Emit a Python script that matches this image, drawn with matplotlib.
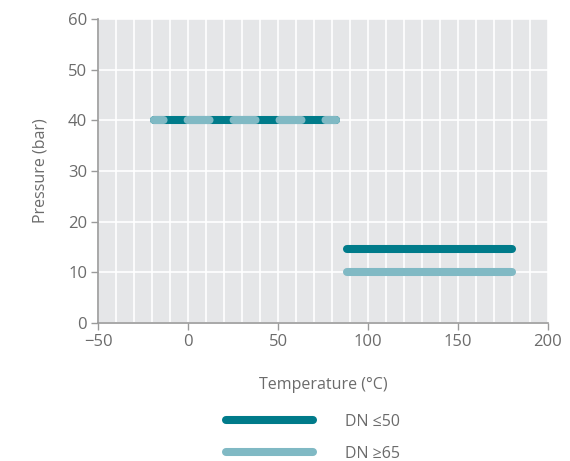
import matplotlib
matplotlib.use("Agg")
import matplotlib.pyplot as plt
from matplotlib.ticker import MultipleLocator

plt.rcParams["font.family"] = ["Open Sans", "DejaVu Sans"]
plt.rcParams["lines.scale_dashes"] = False

# pressure / temperature ranges
dn50_segments = [([-19, 82], [40, 40]), ([88, 180], [14.6, 14.6])]
dn65_segments = [([-19, 82], [40, 40]), ([88, 180], [10, 10])]
labels = ["DN \u226450", "DN \u226565"]

DARK = "#007b8a"
LIGHT = "#80b9c4"
TEXT = "#6b6b6b"
SPINE = "#9a9a9a"

fig = plt.figure(figsize=(5.7, 4.61), dpi=100)
ax = fig.add_axes([0.1725, 0.2993, 0.7889, 0.6595])
ax.set_facecolor("#e5e6e8")

lw = 5.8
h_dark = None
for xs, ys in dn50_segments:
    h_dark, = ax.plot(xs, ys, color=DARK, lw=lw, solid_capstyle="round", zorder=3)

h_light = None
for i, (xs, ys) in enumerate(dn65_segments):
    if ys[0] == dn50_segments[i][1][0]:
        # overlapping range: draw dashed on top so both are visible
        ax.plot(xs, ys, color=LIGHT, lw=lw, dash_capstyle="round",
                linestyle=(8.9, (15.8, 17.3)), zorder=4)
    else:
        h_light, = ax.plot(xs, ys, color=LIGHT, lw=lw, solid_capstyle="round", zorder=3)

ax.set_xlim(-50, 200)
ax.set_ylim(0, 60)
ax.xaxis.set_major_locator(MultipleLocator(50))
ax.xaxis.set_minor_locator(MultipleLocator(10))
ax.yaxis.set_major_locator(MultipleLocator(10))
ax.grid(True, which="both", axis="x", color="white", lw=1.2)
ax.grid(True, which="major", axis="y", color="white", lw=1.2)
ax.set_axisbelow(True)

for s in ["top", "right"]:
    ax.spines[s].set_visible(False)
for s in ["left", "bottom"]:
    ax.spines[s].set_color(SPINE)
    ax.spines[s].set_linewidth(1.2)

ax.tick_params(which="major", length=5, width=1, color=SPINE, labelcolor=TEXT,
               labelsize=12, pad=3)
ax.tick_params(which="minor", length=0)
ax.set_xticklabels([str(int(v)).replace("-", "\u2212") for v in ax.get_xticks()])

ax.set_xlabel("Temperature (°C)", color=TEXT, fontsize=11.5, labelpad=19)
ax.set_ylabel("Pressure (bar)", color=TEXT, fontsize=11.5, labelpad=14)

fig.legend([h_dark, h_light], labels, loc="upper center", bbox_to_anchor=(0.549, 0.133),
           frameon=False, handlelength=5.4, handletextpad=2.0, labelspacing=1.0,
           fontsize=11.5, labelcolor=TEXT)

fig.savefig("out.png", dpi=100)
